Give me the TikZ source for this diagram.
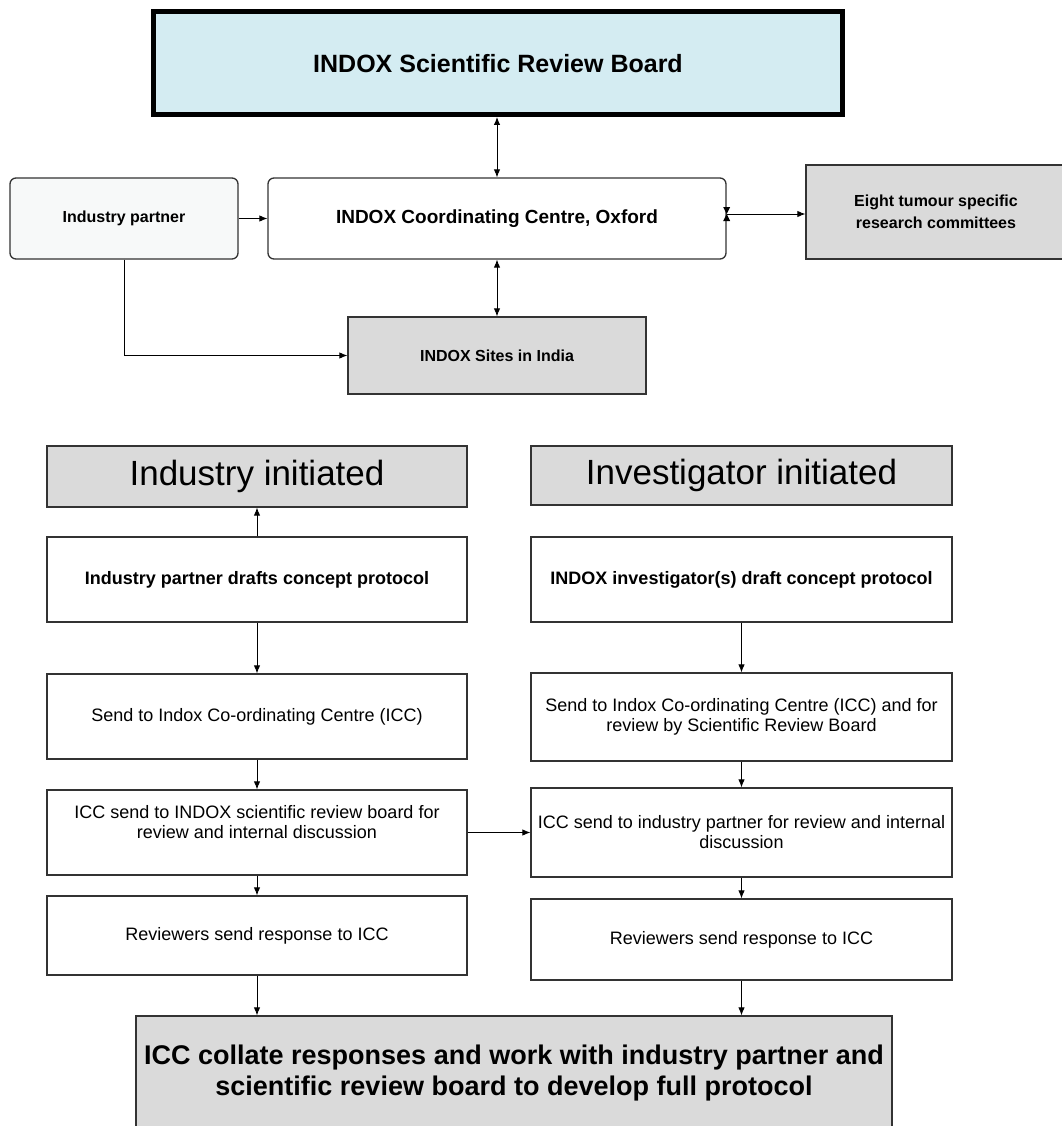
\documentclass[tikz,border=0pt]{standalone}
\usepackage{fontspec}
\setmainfont{Liberation Sans}
\usetikzlibrary{arrows.meta,calc}
\definecolor{boardblue}{HTML}{D4ECF2}
\definecolor{boxgray}{HTML}{DADADA}
\definecolor{partnerfill}{HTML}{F7F9F9}
\definecolor{edge}{HTML}{333333}
\begin{document}
\begin{tikzpicture}[x=1pt,y=-1pt,
  box/.style={draw=edge, line width=1.3pt, inner sep=0pt, align=center, text=black},
  rbox/.style={box, rounded corners=6pt},
  gbox/.style={box, fill=boxgray},
  arr/.style={-{Latex[length=8pt,width=6.5pt]}, line width=0.9pt},
  dbl/.style={{Latex[length=8pt,width=6.5pt]}-{Latex[length=8pt,width=6.5pt]}, line width=0.9pt},
  fb/.style={font=\fontsize{#1}{#1}\selectfont\bfseries},
  fr/.style={font=\fontsize{18}{20}\selectfont},
  txt/.style={inner sep=0pt, align=center}
]
\useasboundingbox (0,0) rectangle (1061,1126);
\fill[white] (0,0) rectangle (1061,1126);

% top part
\node[box, line width=5pt, draw=black, fill=boardblue, minimum width=689pt, minimum height=102.5pt, font=\fontsize{25}{30}\selectfont\bfseries]
  (board) at (498,63.25) {INDOX Scientific Review Board};
\node[rbox, fill=partnerfill, minimum width=228pt, minimum height=81pt, font=\fontsize{16}{20}\selectfont\bfseries]
  (partner) at (124,218.5) {Industry partner};
\node[rbox, fill=white, minimum width=458pt, minimum height=81pt, font=\fontsize{19}{23}\selectfont\bfseries]
  (icc) at (497,218.5) {INDOX Coordinating Centre, Oxford};
\node[gbox, minimum width=260pt, minimum height=94pt, font=\fontsize{16}{22}\selectfont\bfseries]
  (eight) at (936,212) {Eight tumour specific\\research committees};
\node[gbox, minimum width=298pt, minimum height=77pt, font=\fontsize{16}{20}\selectfont\bfseries]
  (sites) at (497,355.5) {INDOX Sites in India};

\draw[dbl] (icc.north) -- (icc.north |- board.south);
\draw[dbl] (icc.south) -- (sites.north);
\draw[arr] (partner.east) -- (icc.west);
\draw[arr] (partner.south) |- (sites.west);
\coordinate (bt) at ([yshift=4.5pt]icc.east);
\draw[arr] (bt) -- (bt -| eight.west);
\fill (bt) -- ++(-3.5,-7) -- ++(7,0) -- cycle;
\fill (bt) -- ++(-3.5,7) -- ++(7,0) -- cycle;

% bottom part
\node[gbox, minimum width=420pt, minimum height=61pt, font=\fontsize{35}{40}\selectfont]
  (indinit) at (257,476.5) {Industry initiated};
\node[gbox, minimum width=421pt, minimum height=59pt, font=\fontsize{35}{40}\selectfont]
  (invinit) at (741.5,475.5) {Investigator initiated};

\node[box, minimum width=420pt, minimum height=85pt, fb=18]
  (L1) at (257,579.5) {Industry partner drafts concept protocol};
\node[box, minimum width=421pt, minimum height=85pt, fb=18]
  (R1) at (741.5,579.5) {INDOX investigator(s) draft concept protocol};

\node[box, minimum width=420pt, minimum height=85pt, fr]
  (L2) at (257,716.5) {Send to Indox Co-ordinating Centre (ICC)};
\node[box, minimum width=421pt, minimum height=88pt, fr]
  (R2) at (741.5,717) {Send to Indox Co-ordinating Centre (ICC) and for\\review by Scientific Review Board};

\node[box, minimum width=420pt, minimum height=85pt]
  (L3) at (257,832.5) {};
\node[txt, fr] (L3t) at ([yshift=10pt]L3.center) {ICC send to INDOX scientific review board for\\review and internal discussion};
\node[box, minimum width=421pt, minimum height=89pt, fr]
  (R3) at (741.5,832.5) {ICC send to industry partner for review and internal\\discussion};

\node[box, minimum width=420pt, minimum height=79pt, fr]
  (L4) at (257,935.5) {Reviewers send response to ICC};
\node[box, minimum width=421pt, minimum height=81pt, fr]
  (R4) at (741.5,939.5) {Reviewers send response to ICC};

\node[gbox, minimum width=756pt, minimum height=114pt, font=\fontsize{27}{31}\selectfont\bfseries]
  (final) at (514,1073) {ICC collate responses and work with industry partner and\\scientific review board to develop full protocol};

\draw[arr] (L1.north) -- (indinit.south);
\draw[arr] (L1.south) -- (L2.north);
\draw[arr] (L2.south) -- (L3.north);
\draw[arr] (L3.south) -- (L4.north);
\draw[arr] (L4.south) -- (L4.south |- final.north);
\draw[arr] (R1.south) -- (R2.north);
\draw[arr] (R2.south) -- (R3.north);
\draw[arr] (R3.south) -- (R4.north);
\draw[arr] (R4.south) -- (R4.south |- final.north);
\draw[arr] (L3.east) -- (L3.east -| R3.west);
\end{tikzpicture}
\end{document}
